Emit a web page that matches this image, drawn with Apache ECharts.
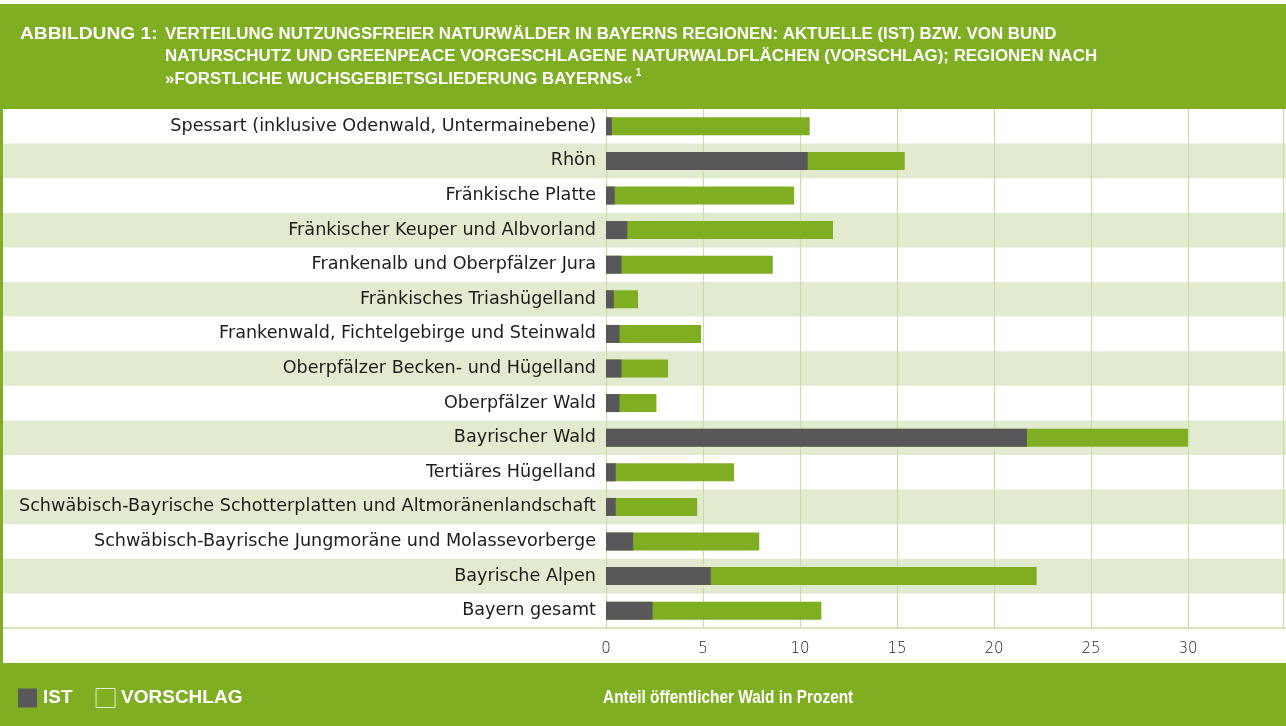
<!DOCTYPE html>
<html>
<head>
<meta charset="utf-8">
<title>Naturwälder in Bayerns Regionen</title>
<script src="https://cdn.jsdelivr.net/npm/echarts@6/dist/echarts.min.js"></script>
<style>
    html, body { margin: 0; padding: 0; background: #fff; }
    #chart { width: 1286px; height: 726px; }
</style>
</head>
<body>
<div id="chart"></div>
<script>
const regions = [
    'Spessart (inklusive Odenwald, Untermainebene)',
    'Rhön',
    'Fränkische Platte',
    'Fränkischer Keuper und Albvorland',
    'Frankenalb und Oberpfälzer Jura',
    'Fränkisches Triashügelland',
    'Frankenwald, Fichtelgebirge und Steinwald',
    'Oberpfälzer Becken- und Hügelland',
    'Oberpfälzer Wald',
    'Bayrischer Wald',
    'Tertiäres Hügelland',
    'Schwäbisch-Bayrische Schotterplatten und Altmoränenlandschaft',
    'Schwäbisch-Bayrische Jungmoräne und Molassevorberge',
    'Bayrische Alpen',
    'Bayern gesamt'
];

// aktuelle Naturwaldfläche (IST), Prozent
const istValues = [0.3, 10.4, 0.45, 1.1, 0.8, 0.4, 0.7, 0.8, 0.7, 21.7, 0.5, 0.5, 1.4, 5.4, 2.4];
// vorgeschlagene Naturwaldfläche (VORSCHLAG), Prozent
const vorschlagValues = [10.5, 15.4, 9.7, 11.7, 8.6, 1.65, 4.9, 3.2, 2.6, 30.0, 6.6, 4.7, 7.9, 22.2, 11.1];

const xTicks = [0, 5, 10, 15, 20, 25, 30];

const GREEN = '#7fae23';
const DARK = '#58585a';
const STRIPE = '#e2eacf';
const GRIDLINE = '#cadda8';
const SANS = "'Liberation Sans', Arial, sans-serif";

const chart = echarts.init(document.getElementById('chart'));

const options = {
    backgroundColor: '#fff',
    animation: false,
    graphic: [
        { type: 'rect', shape: { x: 0, y: 4, width: 1286, height: 105 }, style: { fill: GREEN }, z: -1 },
        { type: 'rect', shape: { x: 0, y: 663, width: 1286, height: 63 }, style: { fill: GREEN }, z: -1 },
        { type: 'rect', shape: { x: 0, y: 4, width: 3, height: 722 }, style: { fill: GREEN }, z: 10 },
        {
            type: 'text', x: 20, y: 23, scaleX: 1.2, z: 10,
            style: { text: 'ABBILDUNG 1:', fill: '#fff', font: 'bold 16px ' + SANS, lineHeight: 22.5 }
        },
        {
            type: 'text', x: 165, y: 23, scaleX: 1.055, z: 10,
            style: {
                text: 'VERTEILUNG NUTZUNGSFREIER NATURWÄLDER IN BAYERNS REGIONEN: AKTUELLE (IST) BZW. VON BUND\n' +
                      'NATURSCHUTZ UND GREENPEACE VORGESCHLAGENE NATURWALDFLÄCHEN (VORSCHLAG); REGIONEN NACH\n' +
                      '»FORSTLICHE WUCHSGEBIETSGLIEDERUNG BAYERNS«{sup|1}',
                fill: '#fff',
                font: 'bold 16px ' + SANS,
                lineHeight: 22.5,
                rich: {
                    sup: { fill: '#fff', font: 'bold 10px ' + SANS, verticalAlign: 'top', padding: [0, 0, 8, 3] }
                }
            }
        },
        {
            type: 'text', x: 603, y: 689, scaleX: 0.856, z: 10,
            style: { text: 'Anteil öffentlicher Wald in Prozent', fill: '#fff', font: 'bold 18px ' + SANS }
        }
    ],
    legend: {
        left: 18, top: 688, padding: 0,
        itemWidth: 19, itemHeight: 19, itemGap: 23,
        icon: 'rect',
        textStyle: { color: '#fff', fontSize: 19, fontWeight: 'bold', fontFamily: 'Liberation Sans', padding: [0, 0, 0, 1] },
        data: [
            { name: 'IST', itemStyle: { color: DARK } },
            { name: 'VORSCHLAG', itemStyle: { color: GREEN, borderColor: '#e4eed2', borderWidth: 1 } }
        ]
    },
    grid: [
        { left: 3, right: 0, top: 109, bottom: 98 },
        { left: 606, right: 1, top: 109, bottom: 98 }
    ],
    xAxis: [
        {
            gridIndex: 0, type: 'value', min: 0, max: 1,
            axisLine: { show: true, onZero: false, lineStyle: { color: '#d5e3bb', width: 2 } },
            axisTick: { show: false }, axisLabel: { show: false }, splitLine: { show: false }
        },
        {
            gridIndex: 1, type: 'value', min: 0, max: 34.9, interval: 5,
            axisLine: { show: false }, axisTick: { show: false },
            axisLabel: {
                margin: 14, color: '#222', fontSize: 15, fontFamily: 'DejaVu Sans', fontWeight: 300,
                formatter: v => xTicks.includes(v) ? String(v) : ''
            },
            splitLine: { show: true, lineStyle: { color: GRIDLINE, width: 1.2 } }
        }
    ],
    yAxis: [
        {
            gridIndex: 0, type: 'category', data: regions, inverse: true,
            axisLine: { show: false }, axisTick: { show: false }, axisLabel: { show: false },
            splitArea: { show: true, areaStyle: { color: ['rgba(255,255,255,0)', STRIPE] } }
        },
        {
            gridIndex: 1, type: 'category', data: regions, inverse: true,
            axisLine: { show: false }, axisTick: { show: false },
            axisLabel: { margin: 10, color: '#1d1d1b', fontSize: 17.6, fontFamily: 'DejaVu Sans' }
        }
    ],
    series: [
        {
            name: 'VORSCHLAG', type: 'bar', xAxisIndex: 1, yAxisIndex: 1,
            data: vorschlagValues, barWidth: 18, itemStyle: { color: GREEN }
        },
        {
            name: 'IST', type: 'bar', xAxisIndex: 1, yAxisIndex: 1,
            data: istValues, barWidth: 18, barGap: '-100%', itemStyle: { color: DARK }
        }
    ]
};

chart.setOption(options);
window.addEventListener('resize', chart.resize);
</script>
</body>
</html>
